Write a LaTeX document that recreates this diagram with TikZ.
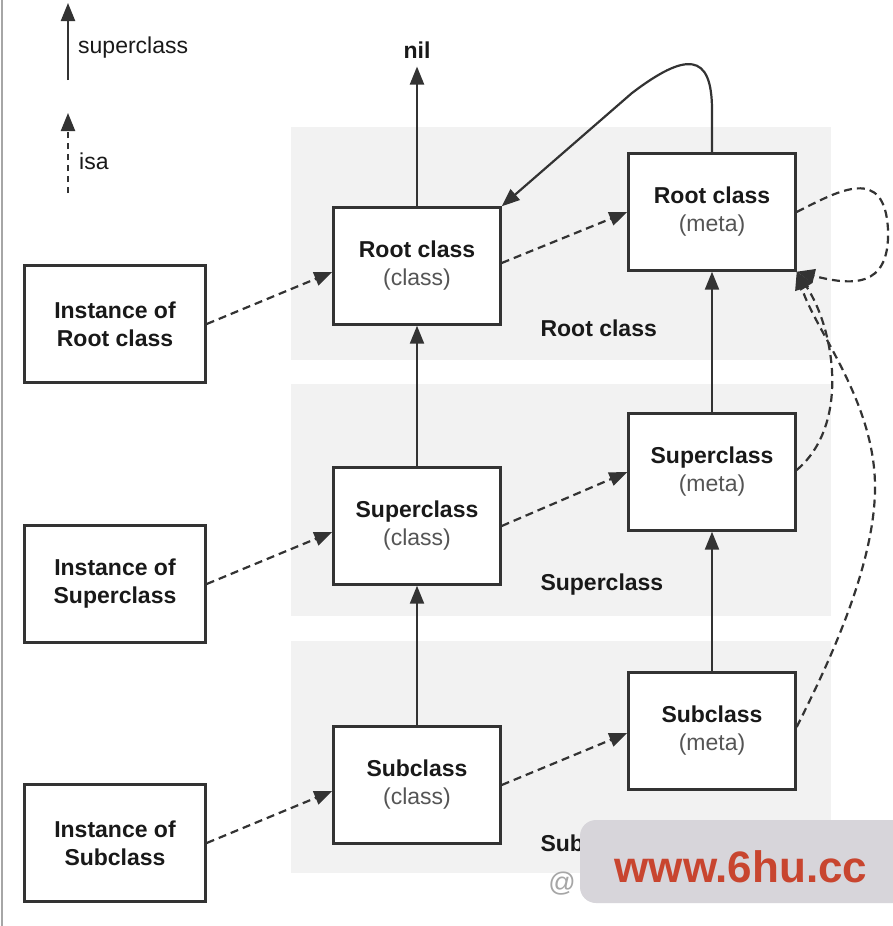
\documentclass[tikz,border=0pt]{standalone}
\usepackage{fontspec}
\setmainfont{Liberation Sans}
\usetikzlibrary{arrows.meta}
\definecolor{ln}{HTML}{333333}
\definecolor{txtg}{HTML}{555555}
\definecolor{bandc}{HTML}{F2F2F2}
\definecolor{wmpanel}{HTML}{D7D5DA}
\definecolor{wmred}{HTML}{C8452F}
\begin{document}
\begin{tikzpicture}[x=1pt,y=-1pt,
  every node/.style={font=\fontsize{23}{28}\selectfont, text=black!90},
  box/.style={draw=ln, line width=2.4pt, fill=white, align=center, inner sep=0pt,
    minimum width=167pt, minimum height=117pt},
  ibox/.style={box, minimum width=181pt, font=\fontsize{23}{28}\selectfont\bfseries},
  sup/.style={draw=ln, line width=2.2pt, -{Triangle[length=18pt,width=14pt]}},
  isa/.style={sup, dash pattern=on 8pt off 5pt},
  band/.style={fill=bandc},
  blabel/.style={anchor=west, font=\fontsize{23}{28}\selectfont\bfseries},
]
\useasboundingbox (0,0) rectangle (892,926);
\fill[white] (0,0) rectangle (892,926);
\draw[black!35, line width=2pt] (2,0) -- (2,926);

% bands
\fill[band] (291,127) rectangle (831,360);
\fill[band] (291,384) rectangle (831,616);
\fill[band] (291,641) rectangle (831,873);

% legend
\coordinate (ls0) at (68,80);
\coordinate (ls1) at (68,3);
\draw[sup] (ls0) -- (ls1);
\node[anchor=west, inner sep=0pt] (lsup) at (78,48) {superclass};
\coordinate (li0) at (68,193);
\coordinate (li1) at (68,113);
\draw[isa, dash pattern=on 6pt off 5pt] (li0) -- (li1);
\node[anchor=west, inner sep=0pt] (lisa) at (79,161) {isa};

% instance boxes
\node[ibox] (i1) at (115,324) {Instance of\\Root class};
\node[ibox] (i2) at (115,584) {Instance of\\Superclass};
\node[ibox] (i3) at (115,843) {Instance of\\Subclass};

% class boxes
\node[box] (c1) at (417,266) {\textbf{Root class}\\{\color{txtg}(class)}};
\node[box] (c2) at (417,526) {\textbf{Superclass}\\{\color{txtg}(class)}};
\node[box] (c3) at (417,785) {\textbf{Subclass}\\{\color{txtg}(class)}};

% meta boxes
\node[box] (m1) at (712,212) {\textbf{Root class}\\{\color{txtg}(meta)}};
\node[box] (m2) at (712,472) {\textbf{Superclass}\\{\color{txtg}(meta)}};
\node[box] (m3) at (712,731) {\textbf{Subclass}\\{\color{txtg}(meta)}};

% band labels
\node[blabel] (b1) at (537,328) {Root class};
\node[blabel] (b2) at (537,585) {Superclass};
\node[blabel] (b3) at (537,843) {Sub};

% nil
\node[font=\fontsize{23}{28}\selectfont\bfseries, inner sep=0pt] (nil) at (417,50) {nil};

% superclass arrows
\draw[sup, shorten >=8pt] (c1.north) -- (nil.south);
\draw[sup] (c2.north) -- (c1.south);
\draw[sup] (c3.north) -- (c2.south);
\draw[sup] (m2.north) -- (m1.south);
\draw[sup] (m3.north) -- (m2.south);
\draw[sup] (m1.north) -- (712,110) .. controls (712,52) and (686,52) .. (632,93) -- (c1.north east);

% isa arrows
\draw[isa] (i1.east) -- ([yshift=-6pt]c1.west);
\draw[isa] (i2.east) -- ([yshift=-6pt]c2.west);
\draw[isa] (i3.east) -- ([yshift=-6pt]c3.west);
\draw[isa] ([yshift=3pt]c1.east) -- (m1.west);
\draw[isa] (c2.east) -- (m2.west);
\draw[isa] (c3.east) -- ([yshift=-2pt]m3.west);
\draw[isa] (m1.east) .. controls (840,190) and (885,165) .. (888,230) .. controls (890,290) and (850,285) .. (m1.south east);
\draw[isa] ([yshift=2pt]m2.east) .. controls (850,425) and (835,330) .. (m1.south east);
\draw[isa] ([yshift=4pt]m3.east) .. controls (820,680) and (876,570) .. (875,485) .. controls (874,400) and (815,330) .. (m1.south east);

% watermark
\fill[wmpanel, rounded corners=16pt] (580,820) rectangle (920,903);
\node[anchor=base, inner sep=0pt, text=wmred, font=\fontsize{44}{44}\selectfont\bfseries] (wm) at (741,882) {www.6hu.cc};
\node[inner sep=0pt, text=black!35, font=\fontsize{27}{27}\selectfont] (at) at (562,884) {@};
\end{tikzpicture}
\end{document}
